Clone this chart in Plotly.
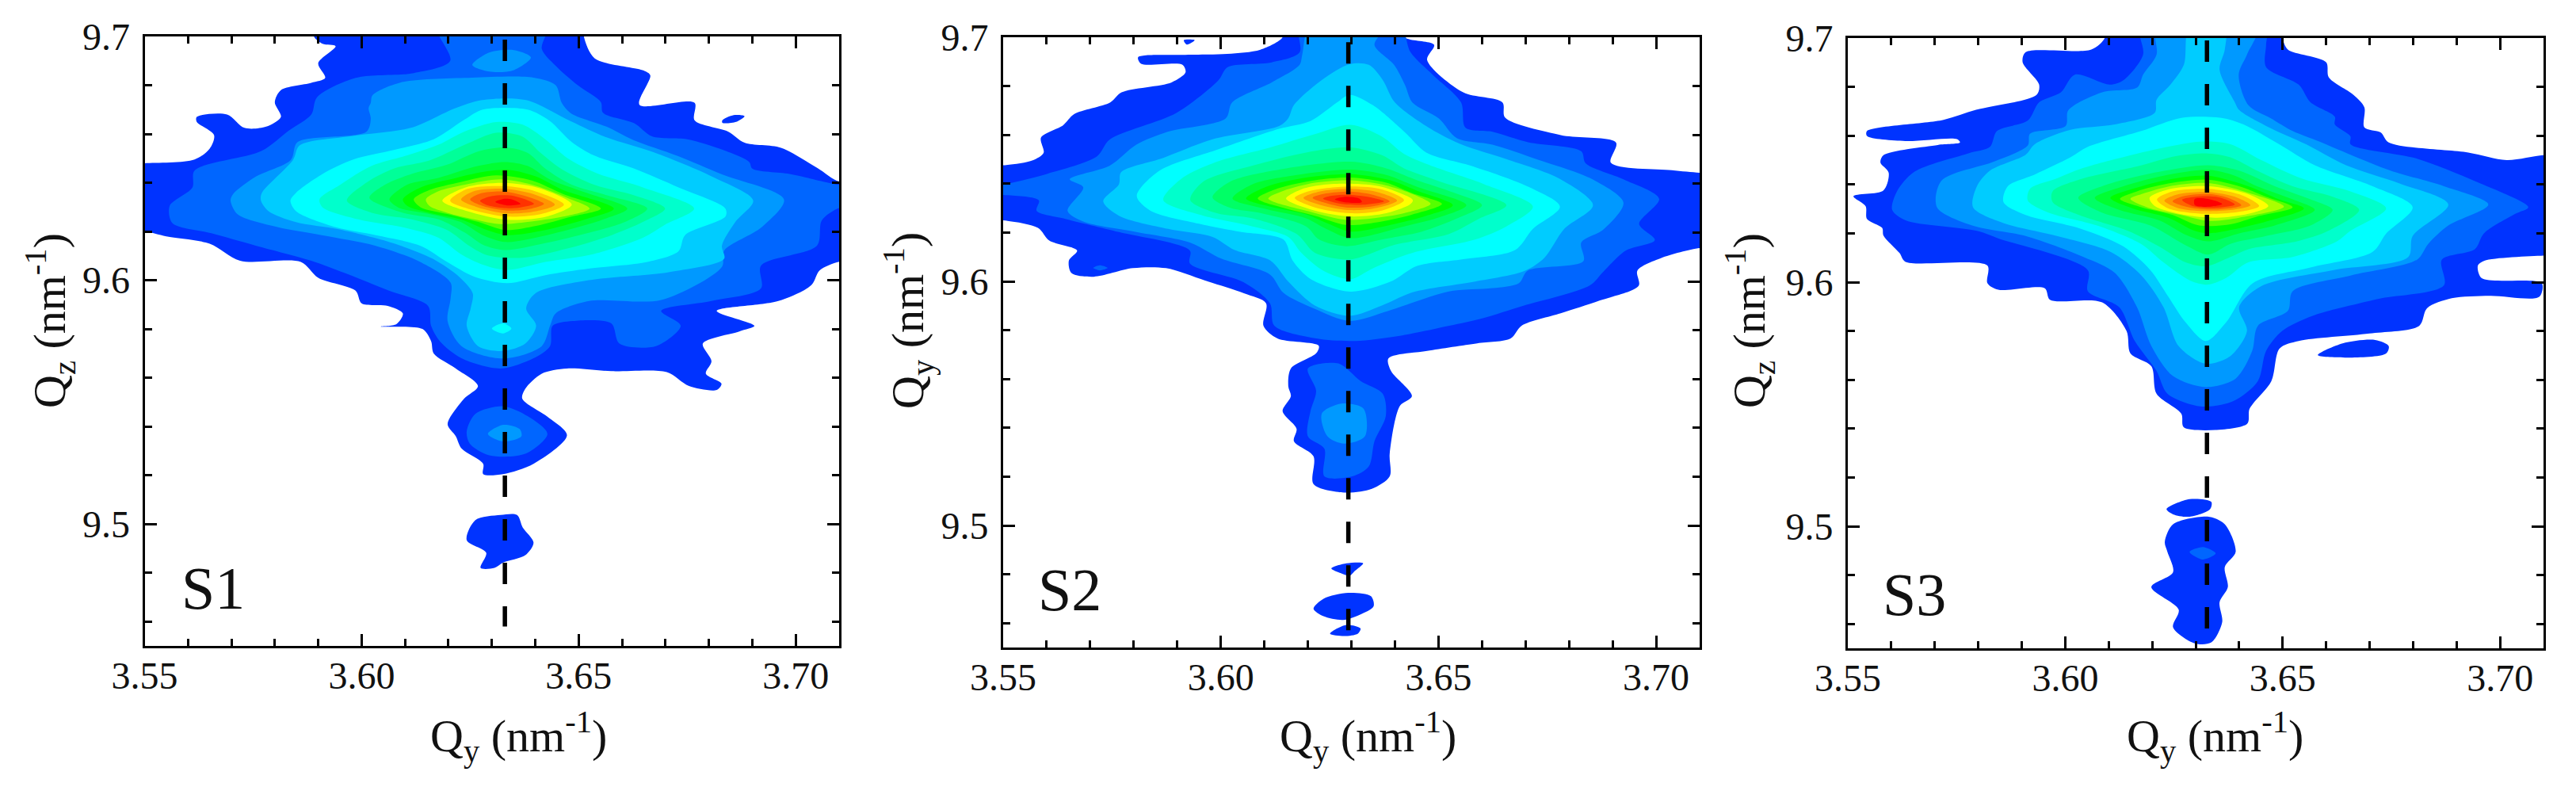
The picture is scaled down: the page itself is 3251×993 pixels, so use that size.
import plotly.graph_objects as go

# Readings of the contour outlines (Qy, Qz) for each intensity level; L01 is the outermost.
LEVEL_COLORS = ["#0033FF","#0066FF","#0099FF","#00CCFF","#00FFFF","#00FFCC","#00FF99","#00FF66","#00FF33",
                "#00FF00","#55FF00","#AAFF00","#FFFF00","#FFC800","#FF9600","#FF6400","#FF3200","#FF0000"]

XTICK_START, XTICK_STEP, XMINOR_STEP = 3.55, 0.05, 0.01
YTICK_START, YTICK_STEP, YMINOR_STEP = 9.5, 0.1, 0.02
X_RANGE = [3.55, 3.71]
Y_RANGE = [9.45, 9.7]

# ---------- S1 ----------
S1_L01 = [(3.589,9.705),(3.589,9.70),(3.591,9.697),(3.594,9.696),(3.590,9.689),(3.5916,9.683),(3.5884,9.681),(3.5814,9.678),(3.580,9.673),(3.5814,9.667),(3.578,9.663),(3.573,9.6625),(3.569,9.668),(3.562,9.667),(3.562,9.665),(3.566,9.6595),(3.565,9.654),(3.5615,9.6495),(3.55,9.648),(3.545,9.648),(3.545,9.62),(3.55,9.62),(3.555,9.618),(3.565,9.615),(3.572,9.608),(3.586,9.6075),(3.590,9.601),(3.5986,9.5957),(3.600,9.5905),(3.606,9.5895),(3.6095,9.5864),(3.608,9.582),(3.6044,9.581),(3.614,9.580),(3.616,9.575),(3.6166,9.570),(3.6217,9.5638),(3.6268,9.5566),(3.6236,9.5514),(3.6198,9.541),(3.6217,9.536),(3.623,9.531),(3.628,9.5247),(3.628,9.5205),(3.6326,9.5205),(3.6396,9.5247),(3.6473,9.5364),(3.6428,9.544),(3.637,9.5514),(3.6377,9.5555),(3.6415,9.5617),(3.6473,9.5638),(3.6575,9.5627),(3.6703,9.5623),(3.6754,9.5566),(3.6818,9.555),(3.6829,9.5576),(3.6793,9.5617),(3.6806,9.5668),(3.6786,9.574),(3.687,9.579),(3.6905,9.5813),(3.6818,9.5874),(3.696,9.5915),(3.7036,9.598),(3.7055,9.604),(3.71,9.6076),(3.715,9.6076),(3.715,9.642),(3.71,9.6405),(3.705,9.646),(3.6966,9.6543),(3.6882,9.6564),(3.6844,9.661),(3.6767,9.6656),(3.6767,9.6728),(3.664,9.672),(3.6665,9.684),(3.665,9.686),(3.6537,9.691),(3.6512,9.70),(3.6512,9.705)]
S1_L01_SPOT = [(3.6831,9.6656),(3.6857,9.6677),(3.6882,9.6673),(3.6863,9.665),(3.6831,9.6646)]
S1_L01_LOW = [(3.6242,9.4934),(3.6262,9.5016),(3.632,9.5037),(3.6358,9.5037),(3.6371,9.4986),(3.6396,9.4924),(3.6377,9.4872),(3.6326,9.4842),(3.6306,9.482),(3.6274,9.482),(3.6287,9.4882)]
S1_L02 = [(3.6172,9.705),(3.6204,9.690),(3.612,9.685),(3.5986,9.683),(3.5897,9.675),(3.5884,9.668),(3.5833,9.6615),(3.5769,9.653),(3.5615,9.645),(3.561,9.638),(3.5558,9.6306),(3.5564,9.6234),(3.5654,9.6193),(3.5756,9.6142),(3.5884,9.608),(3.596,9.603),(3.6063,9.5957),(3.6153,9.5895),(3.616,9.5813),(3.618,9.575),(3.623,9.568),(3.632,9.5638),(3.6396,9.568),(3.6434,9.573),(3.644,9.5813),(3.6486,9.5833),(3.6575,9.5823),(3.6594,9.574),(3.6678,9.573),(3.6735,9.5813),(3.669,9.5874),(3.6806,9.5915),(3.692,9.5967),(3.692,9.606),(3.7049,9.6142),(3.706,9.6245),(3.71,9.6296),(3.715,9.63),(3.715,9.64),(3.71,9.6392),(3.7068,9.6403),(3.6986,9.6436),(3.69,9.6458),(3.6893,9.6485),(3.6833,9.6534),(3.675,9.6578),(3.6669,9.659),(3.6628,9.6644),(3.6556,9.6687),(3.6551,9.6731),(3.6498,9.68),(3.6447,9.688),(3.6415,9.695),(3.6428,9.705)]
S1_L02_SAT = [(3.6242,9.538),(3.6262,9.5452),(3.6326,9.5483),(3.6383,9.5442),(3.6428,9.537),(3.6377,9.5288),(3.6294,9.5282),(3.6249,9.533)]
S1_L03 = [(3.6021,9.6728),(3.6016,9.6706),(3.6021,9.6662),(3.6011,9.6609),(3.5852,9.6566),(3.5837,9.6494),(3.5755,9.6424),(3.5704,9.6354),(3.5698,9.6327),(3.5714,9.6271),(3.5806,9.6218),(3.5908,9.6185),(3.6031,9.6142),(3.6134,9.6076),(3.6205,9.599),(3.6205,9.5926),(3.6198,9.5833),(3.623,9.573),(3.6326,9.5679),(3.6415,9.573),(3.6434,9.5813),(3.6447,9.5864),(3.6524,9.5915),(3.6692,9.592),(3.683,9.6055),(3.6835,9.6121),(3.6922,9.6218),(3.6973,9.6331),(3.683,9.6434),(3.6728,9.651),(3.6625,9.6576),(3.6564,9.663),(3.6482,9.6685),(3.6461,9.6728),(3.6447,9.68),(3.6396,9.6831),(3.6255,9.6831),(3.6089,9.6811),(3.6025,9.6759)]
S1_L03_TOP = [(3.6255,9.6883),(3.6294,9.6934),(3.6351,9.6944),(3.639,9.6914),(3.6351,9.6862),(3.6294,9.6856)]
S1_L03_SAT = [(3.6291,9.537),(3.6326,9.5407),(3.6364,9.539),(3.6368,9.536),(3.6326,9.5339)]
S1_L04 = [(3.6277,9.6739),(3.6379,9.6739),(3.6482,9.6652),(3.6564,9.6586),(3.6676,9.6523),(3.6809,9.6424),(3.6902,9.6327),(3.6861,9.6239),(3.683,9.6142),(3.6835,9.6088),(3.6707,9.6033),(3.6523,9.6),(3.64,9.5946),(3.6379,9.5883),(3.6402,9.5813),(3.6377,9.574),(3.6326,9.571),(3.6268,9.573),(3.6242,9.5813),(3.6251,9.5883),(3.6256,9.5946),(3.6226,9.6012),(3.6164,9.6088),(3.6072,9.6152),(3.5949,9.6208),(3.5847,9.6239),(3.5785,9.6284),(3.5768,9.6327),(3.577,9.6358),(3.5842,9.6494),(3.5857,9.6553),(3.598,9.6592),(3.6113,9.6625),(3.6216,9.6706)]
S1_L05 = [(3.6279,9.670),(3.6382,9.67),(3.6433,9.6654),(3.6484,9.6567),(3.6535,9.6512),(3.6628,9.6458),(3.673,9.6381),(3.6838,9.6294),(3.6838,9.6261),(3.6745,9.6185),(3.673,9.6119),(3.6658,9.6075),(3.6525,9.6048),(3.6423,9.6021),(3.6335,9.5988),(3.6259,9.6015),(3.6197,9.6075),(3.6136,9.6141),(3.6033,9.6185),(3.5941,9.6217),(3.5849,9.6283),(3.5836,9.6327),(3.5849,9.6359),(3.591,9.6436),(3.5982,9.6496),(3.6074,9.6534),(3.6166,9.6578),(3.6238,9.666)]
S1_L05_DOT = [(3.63,9.5802),(3.6326,9.5823),(3.6345,9.5802),(3.6326,9.5782)]
S1_L06 = [(3.5903,9.6332),(3.5951,9.6392),(3.6023,9.6469),(3.6105,9.6512),(3.6177,9.6556),(3.6238,9.6611),(3.631,9.6649),(3.6371,9.6638),(3.6423,9.6578),(3.6474,9.6501),(3.6546,9.6436),(3.6648,9.6381),(3.6766,9.6294),(3.6699,9.6228),(3.6648,9.6174),(3.6535,9.6108),(3.6423,9.6075),(3.6335,9.6042),(3.6279,9.6064),(3.6228,9.6108),(3.6177,9.6174),(3.6095,9.6217),(3.5992,9.625),(3.591,9.6299)]
S1_L07 = [(3.5966,9.6327),(3.6013,9.6403),(3.6074,9.6458),(3.6156,9.6491),(3.6238,9.6556),(3.631,9.6605),(3.6371,9.6589),(3.6412,9.6523),(3.6464,9.6452),(3.6535,9.6392),(3.6628,9.6348),(3.6699,9.6294),(3.6648,9.6239),(3.6576,9.6185),(3.6474,9.613),(3.6371,9.6092),(3.6289,9.6103),(3.6248,9.6141),(3.6197,9.6206),(3.6115,9.625),(3.6023,9.6277)]
S1_L08 = [(3.6018,9.6338),(3.6054,9.6392),(3.6115,9.6436),(3.6197,9.6474),(3.6269,9.6529),(3.633,9.6545),(3.6382,9.6523),(3.6423,9.6458),(3.6484,9.6392),(3.6566,9.6348),(3.6658,9.6294),(3.6607,9.6239),(3.6525,9.6195),(3.6423,9.6152),(3.633,9.6124),(3.6279,9.6146),(3.6238,9.6195),(3.6177,9.625),(3.6095,9.6277)]
S1_L09 = [(3.6064,9.6332),(3.6105,9.6392),(3.6177,9.642),(3.6269,9.6469),(3.633,9.6485),(3.6382,9.6469),(3.6433,9.6414),(3.6515,9.636),(3.6612,9.6294),(3.6557,9.625),(3.6474,9.6206),(3.6382,9.6168),(3.633,9.6157),(3.6279,9.6185),(3.6228,9.6239),(3.6156,9.6272),(3.6084,9.6299)]
S1_L10 = [(3.6095,9.6332),(3.6136,9.6381),(3.6218,9.642),(3.6289,9.6447),(3.6341,9.6452),(3.6402,9.6425),(3.6464,9.637),(3.6581,9.6294),(3.6515,9.625),(3.6423,9.6206),(3.6335,9.6185),(3.6289,9.6206),(3.6228,9.625),(3.6156,9.6277),(3.6105,9.6305)]
S1_L11 = [(3.612,9.6332),(3.6156,9.637),(3.6228,9.6403),(3.631,9.643),(3.6392,9.6409),(3.6464,9.6354),(3.6551,9.6294),(3.6484,9.6261),(3.6402,9.6223),(3.633,9.6206),(3.6269,9.6239),(3.6197,9.6272),(3.6136,9.6299)]
S1_L12 = [(3.6148,9.6332),(3.6177,9.6365),(3.6238,9.6392),(3.632,9.6414),(3.6392,9.6392),(3.6474,9.6338),(3.6525,9.6294),(3.6464,9.6261),(3.6382,9.6239),(3.632,9.623),(3.6259,9.625),(3.6197,9.6277),(3.6156,9.6305)]
S1_L13 = [(3.6186,9.6326),(3.6238,9.638),(3.6329,9.6399),(3.6414,9.6375),(3.6484,9.631),(3.6426,9.6261),(3.6335,9.6248),(3.6244,9.6283)]
S1_L14 = [(3.6204,9.6326),(3.6244,9.6375),(3.6329,9.6386),(3.6402,9.6364),(3.6466,9.631),(3.6414,9.6272),(3.6335,9.6261),(3.6256,9.6288)]
S1_L15 = [(3.6229,9.6331),(3.6256,9.6364),(3.6329,9.6375),(3.6396,9.6353),(3.6445,9.631),(3.6402,9.6283),(3.6335,9.6274),(3.6268,9.6299)]
S1_L16 = [(3.625,9.6331),(3.6274,9.6356),(3.6329,9.6364),(3.6384,9.6342),(3.642,9.6313),(3.6384,9.6291),(3.6335,9.6286),(3.628,9.6304)]
S1_L17 = [(3.6273,9.6326),(3.6299,9.6345),(3.6341,9.6348),(3.6378,9.6331),(3.6397,9.6313),(3.6366,9.6299),(3.6329,9.6296),(3.6286,9.631)]
S1_L18 = [(3.6308,9.6321),(3.6329,9.6334),(3.6347,9.6331),(3.6366,9.6313),(3.6335,9.6307)]

# ---------- S2 ----------
S2_L01 = [(3.6142,9.705),(3.6142,9.70),(3.6091,9.6949),(3.6015,9.6932),(3.5912,9.6928),(3.581,9.6918),(3.5817,9.6891),(3.5912,9.6887),(3.5919,9.6856),(3.5887,9.6815),(3.5772,9.6774),(3.5746,9.6733),(3.5663,9.6685),(3.5638,9.664),(3.5587,9.6589),(3.5593,9.6527),(3.5568,9.6496),(3.5504,9.6476),(3.545,9.6476),(3.545,9.625),(3.55,9.625),(3.558,9.6219),(3.5606,9.6167),(3.567,9.6126),(3.5651,9.6085),(3.5657,9.6034),(3.5708,9.6019),(3.5798,9.6054),(3.5874,9.6054),(3.5964,9.6003),(3.6053,9.5951),(3.6104,9.591),(3.6098,9.5818),(3.613,9.5766),(3.6225,9.5736),(3.6219,9.5705),(3.6161,9.5643),(3.6155,9.5571),(3.6161,9.553),(3.6142,9.5468),(3.6174,9.5396),(3.6168,9.5345),(3.6213,9.5283),(3.6213,9.517),(3.6283,9.5135),(3.6347,9.515),(3.6388,9.5201),(3.6388,9.5294),(3.6411,9.5489),(3.6439,9.553),(3.6391,9.5633),(3.6385,9.5684),(3.6474,9.5715),(3.6589,9.5746),(3.6666,9.5766),(3.6691,9.5818),(3.6781,9.5869),(3.687,9.5921),(3.696,9.5982),(3.6957,9.6044),(3.7011,9.6095),(3.71,9.6136),(3.715,9.6136),(3.715,9.6445),(3.71,9.6445),(3.7036,9.6455),(3.6896,9.6486),(3.6908,9.6568),(3.6781,9.6599),(3.6653,9.6671),(3.6647,9.6733),(3.6557,9.6774),(3.6474,9.6907),(3.649,9.6969),(3.6423,9.70),(3.6423,9.705)]
S2_L01_TOP = [(3.5915,9.6988),(3.594,9.6988),(3.5922,9.697)]
S2_L01_LOW1 = [(3.6254,9.4824),(3.6289,9.4845),(3.6327,9.4845),(3.6308,9.4814),(3.6296,9.4794),(3.6276,9.4804)]
S2_L01_LOW2 = [(3.6213,9.4659),(3.6236,9.47),(3.6293,9.4724),(3.6345,9.471),(3.6351,9.4669),(3.6319,9.4634),(3.6281,9.4613),(3.6236,9.4628)]
S2_L01_LOW3 = [(3.6251,9.4557),(3.6287,9.4592),(3.6321,9.4578),(3.6315,9.4557),(3.6283,9.4547)]
S2_L02 = [(3.6181,9.705),(3.6181,9.6938),(3.6117,9.6897),(3.6015,9.6877),(3.5995,9.6825),(3.5898,9.669),(3.5745,9.6581),(3.5715,9.6511),(3.5602,9.6441),(3.55,9.6398),(3.545,9.6398),(3.545,9.6354),(3.55,9.6354),(3.5582,9.6332),(3.5577,9.6289),(3.5643,9.6256),(3.5766,9.6202),(3.5929,9.6126),(3.5929,9.6073),(3.6052,9.5997),(3.6113,9.591),(3.6123,9.5818),(3.6219,9.5766),(3.6308,9.5756),(3.6411,9.5777),(3.6525,9.5818),(3.6602,9.5849),(3.6695,9.59),(3.6848,9.5984),(3.6879,9.604),(3.693,9.6126),(3.6997,9.6169),(3.6961,9.6235),(3.7007,9.6338),(3.6925,9.6418),(3.6838,9.6484),(3.6828,9.6533),(3.6706,9.657),(3.6624,9.6613),(3.6562,9.663),(3.6552,9.6733),(3.6487,9.6846),(3.6436,9.6938),(3.641,9.705)]
S2_L02_SAT = [(3.62,9.5643),(3.627,9.5664),(3.6321,9.5592),(3.6372,9.554),(3.6379,9.5448),(3.6353,9.5345),(3.634,9.5242),(3.6302,9.5201),(3.6238,9.5201),(3.6238,9.5314),(3.62,9.5365),(3.6206,9.5468),(3.6219,9.5551)]
S2_L02_DOT = [(3.5707,9.6055),(3.5722,9.6066),(3.574,9.6055),(3.5722,9.6045)]
S2_L03 = [(3.6206,9.705),(3.6187,9.6928),(3.6181,9.6887),(3.6117,9.6815),(3.6026,9.6733),(3.6011,9.6667),(3.5878,9.6613),(3.5806,9.656),(3.5745,9.6474),(3.5653,9.6418),(3.5684,9.6385),(3.5648,9.6289),(3.5684,9.6245),(3.5806,9.6202),(3.5929,9.6159),(3.6001,9.6093),(3.6113,9.6028),(3.6144,9.5953),(3.6215,9.5888),(3.6296,9.5838),(3.6385,9.5879),(3.6522,9.5958),(3.6624,9.5972),(3.6685,9.5993),(3.6705,9.6044),(3.6833,9.6083),(3.6828,9.6159),(3.6879,9.6213),(3.6925,9.6322),(3.6854,9.6418),(3.6726,9.65),(3.6624,9.656),(3.6542,9.6587),(3.6501,9.6667),(3.644,9.6733),(3.6423,9.6805),(3.6398,9.6887),(3.6353,9.6969),(3.6378,9.705)]
S2_L03_SAT = [(3.6232,9.5458),(3.6277,9.5499),(3.6328,9.5478),(3.6331,9.5365),(3.6283,9.5335),(3.6245,9.5365)]
S2_L04 = [(3.6296,9.689),(3.6232,9.6825),(3.6168,9.6722),(3.6155,9.6668),(3.6134,9.6636),(3.5981,9.6582),(3.5868,9.6506),(3.5771,9.6447),(3.5766,9.6398),(3.573,9.6328),(3.5766,9.6269),(3.5879,9.6215),(3.5981,9.6182),(3.6032,9.6128),(3.6114,9.6085),(3.6155,9.5999),(3.6216,9.5901),(3.6296,9.5859),(3.637,9.5901),(3.6441,9.5955),(3.6584,9.5999),(3.6697,9.6042),(3.6743,9.6096),(3.6789,9.6215),(3.6855,9.6312),(3.6779,9.642),(3.6656,9.6501),(3.6554,9.656),(3.6482,9.6625),(3.64,9.6733),(3.6372,9.6825),(3.634,9.6887)]
S2_L05 = [(3.6296,9.6764),(3.6267,9.6733),(3.6206,9.6657),(3.6134,9.6625),(3.5991,9.6539),(3.5858,9.6452),(3.5807,9.635),(3.5838,9.629),(3.595,9.6236),(3.6042,9.6204),(3.6144,9.6171),(3.6165,9.6085),(3.6206,9.601),(3.6298,9.5958),(3.639,9.5999),(3.6451,9.6063),(3.6554,9.609),(3.6676,9.6128),(3.6717,9.6215),(3.6779,9.6306),(3.6707,9.6387),(3.6574,9.6474),(3.6472,9.6528),(3.6421,9.6614),(3.6349,9.6722)]
S2_L06 = [(3.6216,9.6603),(3.6298,9.6641),(3.637,9.6593),(3.6421,9.6522),(3.6492,9.6468),(3.6605,9.6398),(3.6717,9.6306),(3.6656,9.6225),(3.6584,9.6171),(3.6441,9.6117),(3.6349,9.6053),(3.6298,9.6009),(3.6237,9.6042),(3.6185,9.6117),(3.6155,9.6182),(3.6073,9.6225),(3.596,9.6269),(3.5868,9.6333),(3.5909,9.642),(3.5991,9.649),(3.6114,9.6549)]
S2_L07 = [(3.6298,9.6549),(3.637,9.6517),(3.6421,9.6463),(3.6503,9.6409),(3.6656,9.6312),(3.6595,9.6258),(3.6523,9.6193),(3.64,9.615),(3.6298,9.609),(3.6216,9.6117),(3.6175,9.6193),(3.6073,9.6258),(3.5991,9.6279),(3.593,9.6333),(3.596,9.6409),(3.6073,9.6474),(3.6196,9.6528)]
S2_L08 = [(3.6298,9.649),(3.638,9.6463),(3.6451,9.6414),(3.6523,9.6371),(3.66,9.6312),(3.6543,9.6258),(3.6462,9.6204),(3.637,9.6171),(3.6288,9.6144),(3.6226,9.6171),(3.6196,9.6225),(3.6093,9.6279),(3.6022,9.6301),(3.5981,9.6344),(3.6022,9.6409),(3.6134,9.6458)]
S2_L09 = [(3.6298,9.6458),(3.638,9.6436),(3.6451,9.6387),(3.6564,9.6312),(3.6503,9.6263),(3.6421,9.6225),(3.6298,9.6177),(3.6242,9.6215),(3.6196,9.6258),(3.6104,9.6296),(3.6027,9.6339),(3.6073,9.6398),(3.6175,9.6436)]
S2_L10 = [(3.6298,9.6439),(3.639,9.6414),(3.6451,9.6371),(3.6533,9.6312),(3.6472,9.6269),(3.639,9.6231),(3.6298,9.6204),(3.6247,9.6236),(3.6196,9.6274),(3.6114,9.6306),(3.6058,9.6339),(3.6104,9.6387),(3.6196,9.6425)]
S2_L11 = [(3.6298,9.6425),(3.638,9.6404),(3.6441,9.636),(3.6508,9.6317),(3.6441,9.6274),(3.6359,9.6242),(3.6288,9.6231),(3.6216,9.6269),(3.6144,9.6301),(3.6085,9.6339),(3.6134,9.6382),(3.6216,9.6414)]
S2_L12 = [(3.6298,9.6414),(3.638,9.6393),(3.6451,9.635),(3.6482,9.6317),(3.6421,9.6279),(3.6349,9.6258),(3.6288,9.6252),(3.6206,9.6285),(3.6109,9.6339),(3.6144,9.6371),(3.6216,9.6404)]
S2_L13 = [(3.6298,9.64),(3.637,9.6387),(3.6441,9.6333),(3.6436,9.6317),(3.638,9.6279),(3.6298,9.6266),(3.6216,9.629),(3.615,9.6339),(3.6185,9.6377),(3.6237,9.6396)]
S2_L14 = [(3.6298,9.6389),(3.637,9.6377),(3.6421,9.6333),(3.637,9.629),(3.6298,9.6279),(3.6216,9.6303),(3.617,9.6342),(3.6206,9.6371)]
S2_L15 = [(3.6298,9.6379),(3.6364,9.6364),(3.6405,9.6331),(3.6359,9.6301),(3.6298,9.6292),(3.6231,9.6312),(3.619,9.6342),(3.6226,9.6368)]
S2_L16 = [(3.6298,9.6368),(3.6349,9.6355),(3.6388,9.6328),(3.6344,9.6306),(3.6288,9.6303),(3.6237,9.6323),(3.6211,9.6342),(3.6242,9.636)]
S2_L17 = [(3.6288,9.6355),(3.6339,9.6346),(3.6375,9.6328),(3.6329,9.6314),(3.6277,9.6317),(3.6235,9.6339),(3.6252,9.635)]
S2_L18 = [(3.6283,9.6346),(3.6318,9.6339),(3.6324,9.6325),(3.6288,9.6323),(3.6262,9.6336)]

# ---------- S3 ----------
S3_L01 = [(3.6091,9.705),(3.6091,9.70),(3.606,9.6953),(3.5909,9.6942),(3.5902,9.6901),(3.594,9.6809),(3.5934,9.6767),(3.5795,9.6706),(3.572,9.6665),(3.5544,9.6619),(3.5544,9.6599),(3.5632,9.6578),(3.5751,9.6586),(3.5758,9.6572),(3.5707,9.6562),(3.5582,9.652),(3.5575,9.649),(3.5594,9.6448),(3.5582,9.6376),(3.5513,9.6352),(3.5541,9.6311),(3.5544,9.6259),(3.5579,9.6222),(3.5582,9.6191),(3.5619,9.6119),(3.5632,9.6084),(3.5821,9.6068),(3.5821,9.5996),(3.5846,9.5969),(3.5953,9.5975),(3.5965,9.5928),(3.6085,9.5917),(3.6141,9.58),(3.615,9.5708),(3.6198,9.5656),(3.621,9.5543),(3.6267,9.5461),(3.6273,9.5405),(3.6418,9.5419),(3.6424,9.5481),(3.6474,9.5594),(3.6493,9.5728),(3.6537,9.5759),(3.67,9.579),(3.6814,9.5821),(3.6832,9.5893),(3.6889,9.5934),(3.6977,9.5944),(3.709,9.594),(3.7096,9.5996),(3.6958,9.6016),(3.6949,9.6068),(3.6964,9.6088),(3.71,9.6109),(3.715,9.6109),(3.715,9.652),(3.71,9.652),(3.7015,9.65),(3.6927,9.6531),(3.6744,9.6572),(3.6726,9.6613),(3.6688,9.6634),(3.6688,9.6716),(3.6663,9.6767),(3.6606,9.6839),(3.66,9.6901),(3.6512,9.6953),(3.65,9.70),(3.65,9.705)]
S3_L01_SIDE = [(3.6581,9.5701),(3.6638,9.5749),(3.6713,9.5763),(3.6744,9.5738),(3.6738,9.5708),(3.665,9.5691)]
S3_L01_LOW1 = [(3.6233,9.507),(3.6286,9.5111),(3.6336,9.51),(3.6333,9.507),(3.6286,9.5039),(3.6248,9.5049)]
S3_L01_LOW2 = [(3.6229,9.4936),(3.6248,9.5008),(3.633,9.5039),(3.6367,9.5008),(3.6392,9.4895),(3.6367,9.4833),(3.6374,9.4751),(3.6355,9.4689),(3.6361,9.4607),(3.6336,9.4524),(3.6298,9.452),(3.6248,9.4586),(3.6261,9.4658),(3.6198,9.4751),(3.6248,9.4812),(3.6235,9.4895)]
S3_L02 = [(3.6173,9.705),(3.6179,9.6932),(3.6135,9.6829),(3.6103,9.6809),(3.6022,9.685),(3.599,9.6778),(3.594,9.6737),(3.5914,9.6662),(3.5843,9.6619),(3.5827,9.6554),(3.5776,9.6527),(3.5653,9.6452),(3.5613,9.6372),(3.5602,9.6296),(3.5633,9.6253),(3.5797,9.621),(3.5848,9.6178),(3.6052,9.6049),(3.6052,9.5963),(3.6124,9.5898),(3.616,9.5759),(3.621,9.5636),(3.6235,9.5543),(3.6311,9.5491),(3.6386,9.5512),(3.6443,9.5594),(3.6462,9.5718),(3.6499,9.58),(3.6569,9.5862),(3.6676,9.5913),(3.6728,9.5934),(3.6871,9.5987),(3.6866,9.6092),(3.6942,9.6135),(3.6963,9.62),(3.7035,9.628),(3.7065,9.6307),(3.6942,9.6414),(3.6809,9.6506),(3.6656,9.6565),(3.6656,9.6597),(3.662,9.6646),(3.662,9.6678),(3.6564,9.6737),(3.6537,9.6809),(3.6462,9.6881),(3.6462,9.6973),(3.6462,9.705)]
S3_L02_LOW = [(3.6286,9.4895),(3.6317,9.4915),(3.6346,9.4889),(3.6317,9.4864)]
S3_L03 = [(3.621,9.705),(3.621,9.6932),(3.6179,9.685),(3.6166,9.6798),(3.6085,9.6778),(3.6007,9.6704),(3.6001,9.664),(3.5919,9.6608),(3.5914,9.656),(3.5838,9.6495),(3.5715,9.6415),(3.5705,9.6307),(3.5786,9.6232),(3.5909,9.6189),(3.6042,9.6103),(3.6114,9.6038),(3.6165,9.5898),(3.6198,9.5739),(3.6248,9.5615),(3.6323,9.557),(3.6392,9.5605),(3.643,9.5718),(3.6443,9.5821),(3.6512,9.5882),(3.6523,9.5963),(3.6656,9.6027),(3.6809,9.6092),(3.6835,9.6157),(3.6881,9.6232),(3.6973,9.6318),(3.6871,9.6393),(3.6748,9.6457),(3.6656,9.6522),(3.6584,9.6576),(3.6523,9.6619),(3.6472,9.6672),(3.6421,9.6726),(3.6399,9.685),(3.6418,9.6932),(3.6443,9.705)]
S3_L04 = [(3.6286,9.705),(3.6273,9.6891),(3.6242,9.6809),(3.621,9.6747),(3.6206,9.6694),(3.6114,9.6646),(3.6012,9.6624),(3.593,9.6565),(3.5909,9.6522),(3.5827,9.6457),(3.5797,9.6393),(3.5788,9.6307),(3.5858,9.6242),(3.5981,9.6189),(3.6104,9.6124),(3.6175,9.6028),(3.6226,9.5898),(3.6261,9.5738),(3.6323,9.5666),(3.638,9.5697),(3.6418,9.58),(3.64,9.5898),(3.6451,9.5984),(3.6615,9.6049),(3.6789,9.6103),(3.6799,9.6189),(3.6881,9.6318),(3.6769,9.6404),(3.6646,9.6479),(3.6554,9.6565),(3.6462,9.664),(3.64,9.6705),(3.639,9.6737),(3.6355,9.687),(3.6367,9.6953),(3.6367,9.705)]
S3_L05 = [(3.6267,9.6673),(3.6175,9.6619),(3.6052,9.6554),(3.6012,9.6511),(3.593,9.6441),(3.5868,9.6393),(3.5858,9.6328),(3.5909,9.6275),(3.6032,9.6221),(3.6134,9.6146),(3.6196,9.6049),(3.6237,9.5941),(3.6277,9.5835),(3.6323,9.5759),(3.637,9.5835),(3.6431,9.5995),(3.6564,9.606),(3.6707,9.6124),(3.6738,9.6199),(3.6799,9.6307),(3.6707,9.6393),(3.6574,9.6479),(3.6492,9.6565),(3.641,9.6646),(3.6359,9.6673)]
S3_L06 = [(3.6318,9.6576),(3.638,9.6565),(3.6451,9.65),(3.6543,9.6425),(3.6656,9.6372),(3.6738,9.6302),(3.6656,9.621),(3.6625,9.6167),(3.6523,9.6103),(3.6421,9.6081),(3.637,9.6017),(3.6329,9.599),(3.6288,9.6006),(3.6226,9.6081),(3.6175,9.6156),(3.6073,9.6232),(3.596,9.6286),(3.5914,9.6334),(3.5919,9.6382),(3.5981,9.6425),(3.6042,9.6468),(3.6155,9.6522),(3.6252,9.656)]
S3_L07 = [(3.6329,9.6527),(3.638,9.6511),(3.6441,9.6457),(3.6523,9.6393),(3.6615,9.635),(3.6676,9.6296),(3.6605,9.621),(3.6533,9.6167),(3.6421,9.6135),(3.638,9.6103),(3.6324,9.6065),(3.6277,9.6081),(3.6216,9.6146),(3.6144,9.621),(3.6032,9.6275),(3.5971,9.6328),(3.5971,9.6372),(3.6042,9.6425),(3.6165,9.6474),(3.6257,9.6517)]
S3_L08 = [(3.6329,9.6479),(3.64,9.6457),(3.6482,9.6393),(3.6564,9.6339),(3.6615,9.6296),(3.6564,9.6232),(3.6462,9.6189),(3.638,9.6157),(3.6329,9.6113),(3.6277,9.6151),(3.6196,9.6232),(3.6083,9.6286),(3.603,9.6345),(3.6104,9.6404),(3.6216,9.6452)]
S3_L09 = [(3.6329,9.646),(3.639,9.6436),(3.6441,9.6393),(3.6523,9.6339),(3.6574,9.6296),(3.6482,9.6232),(3.64,9.62),(3.6329,9.6167),(3.6277,9.6194),(3.6216,9.6253),(3.6124,9.6296),(3.6068,9.6345),(3.6134,9.6393),(3.6226,9.6436)]
S3_L10 = [(3.6329,9.6436),(3.6421,9.6393),(3.6492,9.6339),(3.6549,9.6302),(3.6472,9.6253),(3.64,9.6221),(3.6329,9.62),(3.6298,9.621),(3.6237,9.6264),(3.6155,9.6302),(3.6104,9.6345),(3.6155,9.6382),(3.6237,9.642)]
S3_L11 = [(3.6329,9.642),(3.64,9.6393),(3.6462,9.635),(3.6523,9.6307),(3.6441,9.6269),(3.638,9.6237),(3.6308,9.6232),(3.6247,9.6275),(3.6175,9.6307),(3.6126,9.6341),(3.6165,9.6372),(3.6237,9.6404)]
S3_L12 = [(3.6329,9.6406),(3.6421,9.6366),(3.6503,9.6309),(3.64,9.6264),(3.6329,9.6251),(3.6267,9.6275),(3.6196,9.6302),(3.615,9.6341),(3.6175,9.636),(3.6247,9.6395)]
S3_L13 = [(3.6329,9.6393),(3.6421,9.636),(3.6467,9.6312),(3.6421,9.628),(3.6349,9.6264),(3.6277,9.6275),(3.6206,9.6312),(3.6194,9.6345),(3.6237,9.638)]
S3_L14 = [(3.6329,9.6382),(3.64,9.636),(3.6446,9.6312),(3.64,9.6288),(3.6318,9.628),(3.6237,9.6302),(3.6211,9.6339),(3.6247,9.6372)]
S3_L15 = [(3.6329,9.6369),(3.639,9.635),(3.6426,9.6315),(3.639,9.6298),(3.6329,9.6291),(3.6262,9.6302),(3.6228,9.6334),(3.6262,9.6361)]
S3_L16 = [(3.6329,9.6361),(3.6375,9.6345),(3.6405,9.6315),(3.6349,9.6298),(3.6288,9.6305),(3.6247,9.6331),(3.6272,9.6352)]
S3_L17 = [(3.6318,9.6352),(3.6359,9.6345),(3.639,9.6318),(3.6349,9.6305),(3.6293,9.6312),(3.6269,9.6337)]
S3_L18 = [(3.6298,9.6341),(3.6329,9.6341),(3.6361,9.632),(3.6329,9.6309),(3.6298,9.6316)]

# Reference dashed lines: Qy position and Qz extent
S1_DASH = ([3.633, 3.633], [9.6987, 9.458])
S2_DASH = ([3.6293, 3.6293], [9.698, 9.456])
S3_DASH = ([3.6326, 3.6326], [9.699, 9.458])

S1_BANDS = [[S1_L01,S1_L01_SPOT,S1_L01_LOW],[S1_L02,S1_L02_SAT],[S1_L03,S1_L03_TOP,S1_L03_SAT],[S1_L04],[S1_L05,S1_L05_DOT],[S1_L06],[S1_L07],[S1_L08],[S1_L09],[S1_L10],[S1_L11],[S1_L12],[S1_L13],[S1_L14],[S1_L15],[S1_L16],[S1_L17],[S1_L18]]
S2_BANDS = [[S2_L01,S2_L01_TOP,S2_L01_LOW1,S2_L01_LOW2,S2_L01_LOW3],[S2_L02,S2_L02_SAT,S2_L02_DOT],[S2_L03,S2_L03_SAT],[S2_L04],[S2_L05],[S2_L06],[S2_L07],[S2_L08],[S2_L09],[S2_L10],[S2_L11],[S2_L12],[S2_L13],[S2_L14],[S2_L15],[S2_L16],[S2_L17],[S2_L18]]
S3_BANDS = [[S3_L01,S3_L01_SIDE,S3_L01_LOW1,S3_L01_LOW2],[S3_L02,S3_L02_LOW],[S3_L03],[S3_L04],[S3_L05],[S3_L06],[S3_L07],[S3_L08],[S3_L09],[S3_L10],[S3_L11],[S3_L12],[S3_L13],[S3_L14],[S3_L15],[S3_L16],[S3_L17],[S3_L18]]

W, H = 3251, 993
PAGE_MARGIN = 8  # the page body offsets the figure by this many pixels
FONT = "Liberation Serif"
# Panel frames in page pixels: left, right, top, bottom
PANELS = [
    dict(name="S1", bands=S1_BANDS, dash=S1_DASH, box=(182.5, 1059, 46, 815), ylab="Q<sub>z</sub> (nm<sup>-1</sup>)", lab=(269, 742), xt=(654, 929), yt=(63, 405)),
    dict(name="S2", bands=S2_BANDS, dash=S2_DASH, box=(1266, 2145, 47, 817), ylab="Q<sub>y</sub> (nm<sup>-1</sup>)", lab=(1350, 744), xt=(1727, 929), yt=(1146, 405)),
    dict(name="S3", bands=S3_BANDS, dash=S3_DASH, box=(2332, 3210, 48, 818), ylab="Q<sub>z</sub> (nm<sup>-1</sup>)", lab=(2416, 750), xt=(2795, 929), yt=(2208, 405)),
]


def fx(px):
    return (px - PAGE_MARGIN) / W


def fy(py):
    return 1 - (py - PAGE_MARGIN) / H


fig = go.Figure()
layout = dict(width=W, height=H, margin=dict(l=0, r=0, t=0, b=0), paper_bgcolor="white", plot_bgcolor="white",
              showlegend=False, annotations=[])

for i, p in enumerate(PANELS):
    suffix = "" if i == 0 else str(i + 1)
    l, r, t, b = p["box"]
    for polys, color in zip(p["bands"], LEVEL_COLORS):
        xs, ys = [], []
        for poly in polys:
            xs += [q[0] for q in poly] + [poly[0][0], None]
            ys += [q[1] for q in poly] + [poly[0][1], None]
        fig.add_trace(go.Scatter(x=xs, y=ys, mode="lines", fill="toself", fillcolor=color,
                                 line=dict(width=0, shape="spline", smoothing=0.85, color=color),
                                 hoverinfo="skip", xaxis="x" + suffix, yaxis="y" + suffix))
    fig.add_trace(go.Scatter(x=p["dash"][0], y=p["dash"][1], mode="lines",
                             line=dict(color="black", width=5.5, dash="27px,28px"),
                             hoverinfo="skip", xaxis="x" + suffix, yaxis="y" + suffix))
    axis_common = dict(showgrid=False, zeroline=False, showline=True, linecolor="black", linewidth=3, mirror="allticks",
                       ticks="inside", ticklen=15, tickwidth=3, tickcolor="black", automargin=False,
                       tickfont=dict(family=FONT, size=48, color="#111"))
    layout["xaxis" + suffix] = dict(axis_common, domain=[fx(l), fx(r)], range=X_RANGE, anchor="y" + suffix,
                                    tick0=XTICK_START, dtick=XTICK_STEP, tickformat=".2f", ticklabelstandoff=-7,
                                    minor=dict(tick0=XTICK_START, dtick=XMINOR_STEP, ticks="inside", ticklen=9, tickwidth=3, tickcolor="black", showgrid=False))
    layout["yaxis" + suffix] = dict(axis_common, domain=[fy(b), fy(t)], range=Y_RANGE, anchor="x" + suffix,
                                    tick0=YTICK_START, dtick=YTICK_STEP, tickformat=".1f", ticklabelstandoff=6,
                                    minor=dict(tick0=YTICK_START, dtick=YMINOR_STEP, ticks="inside", ticklen=9, tickwidth=3, tickcolor="black", showgrid=False))
    text_common = dict(xref="paper", yref="paper", showarrow=False, xanchor="center", yanchor="middle")
    layout["annotations"] += [
        dict(text=p["name"], x=fx(p["lab"][0]), y=fy(p["lab"][1]), font=dict(family=FONT, size=76, color="#111"), **text_common),
        dict(text="Q<sub>y</sub> (nm<sup>-1</sup>)", x=fx(p["xt"][0]), y=fy(p["xt"][1]), font=dict(family=FONT, size=58, color="#111"), **text_common),
        dict(text=p["ylab"], textangle=-90, x=fx(p["yt"][0]), y=fy(p["yt"][1]), font=dict(family=FONT, size=58, color="#111"), **text_common),
    ]

fig.update_layout(**layout)
fig.write_html("out.html")
